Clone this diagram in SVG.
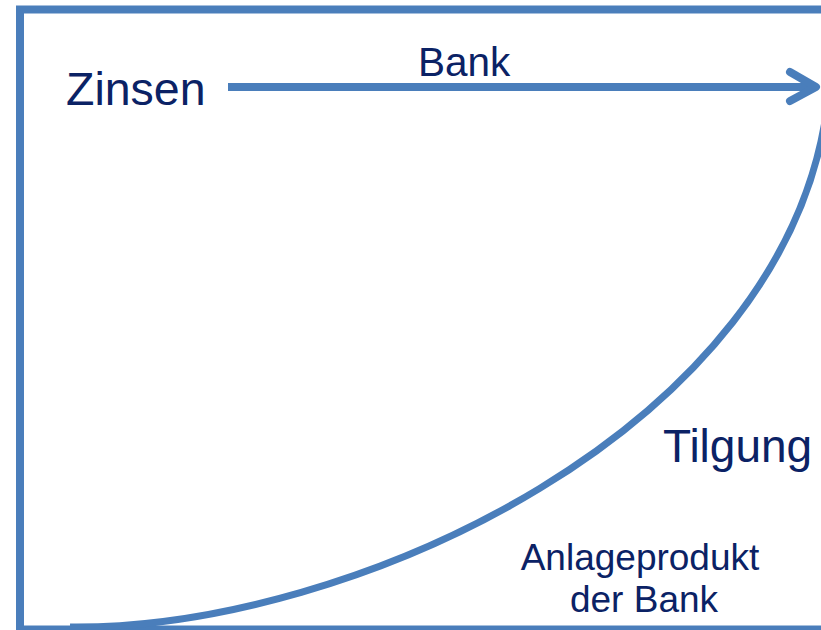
<svg xmlns="http://www.w3.org/2000/svg" width="821" height="630" viewBox="0 0 821 630">
<style>
.ln{fill:none;stroke:#4a7ebb;}
.t{font-family:"Liberation Sans",Arial,sans-serif;fill:#0b2265;}
</style>
<rect width="821" height="630" fill="#ffffff"/>
<g id="frame">
<rect class="ln" x="20" y="9.5" width="830" height="620" stroke-width="8"/>
</g>
<g id="connectors">
<line class="ln" x1="228" y1="87" x2="814" y2="87" stroke-width="8"/>
<polyline class="ln" points="790,72 816,87 790,101" stroke-width="8" stroke-linecap="round" stroke-linejoin="round"/>
<path class="ln" d="M70,627 C350,630 790,430 828,100" stroke-width="7"/>
</g>
<g id="zinsen"><text class="t" x="66" y="105" font-size="46.5">Zinsen</text></g>
<g id="bank"><text class="t" x="418" y="76" font-size="40.5">Bank</text></g>
<g id="tilgung"><text class="t" x="663" y="462" font-size="46">Tilgung</text></g>
<g id="anlage"><text class="t" x="640" y="570" font-size="37" text-anchor="middle">Anlageprodukt</text><text class="t" x="644" y="612" font-size="37" text-anchor="middle">der Bank</text></g>
</svg>
